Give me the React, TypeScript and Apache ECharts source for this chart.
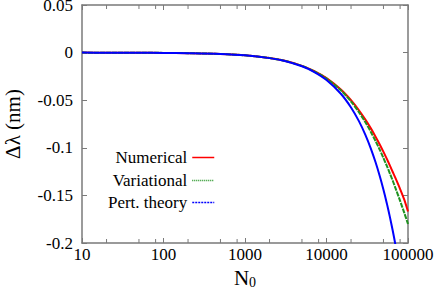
import React, { useEffect, useRef } from "react";
import * as echarts from "echarts";

const nValues = [10, 20, 50, 100, 200, 500, 1000, 2000, 3000, 5000, 7000, 10000, 15000, 20000, 25000, 30000, 35000, 40000, 45000, 50000, 55000, 60000, 65000, 70000, 80000, 90000, 100000];
const numerical = [0, -0.0001, -0.0001, -0.0003, -0.0006, -0.0014, -0.0029, -0.0057, -0.0084, -0.0139, -0.0192, -0.0268, -0.0388, -0.0500, -0.0606, -0.0704, -0.0796, -0.0883, -0.0965, -0.1043, -0.1117, -0.1187, -0.1254, -0.1316, -0.1433, -0.1545, -0.1670];
const variational = [0, -0.0001, -0.0001, -0.0003, -0.0006, -0.0014, -0.0029, -0.0057, -0.0085, -0.0140, -0.0196, -0.0272, -0.0396, -0.0514, -0.0626, -0.0732, -0.0833, -0.0929, -0.1020, -0.1108, -0.1191, -0.1270, -0.1346, -0.1420, -0.1557, -0.1683, -0.1800];
const pertTheory = [0, -0.0001, -0.0001, -0.0003, -0.0006, -0.0014, -0.0029, -0.0058, -0.0086, -0.0144, -0.0202, -0.0288, -0.0432, -0.0576, -0.0720, -0.0864, -0.1008, -0.1152, -0.1296, -0.1440, -0.1584, -0.1728, -0.1872, -0.2016, -0.2304, -0.2592, -0.2880];
const minorTicks = [20, 50, 80, 200, 500, 800, 2000, 5000, 8000, 20000, 50000, 80000];
const seriesNames = ["Numerical", "Variational", "Pert. theory"];
const yTicks = { min: -0.2, max: 0.05, interval: 0.05 };

const FONT = "Liberation Serif";
const AX = "#7a7a7a";

export default function App() {
  const ref = useRef<HTMLDivElement>(null);
  useEffect(() => {
    const chart = echarts.init(ref.current!, null, { renderer: "svg" });
    const mk = (vals: number[]) => nValues.map((n, i) => [n, vals[i]]);
    const axisCommon = {
      axisLine: { show: true, onZero: false, lineStyle: { color: AX, width: 1.5 } },
      axisTick: { show: true, inside: true, length: 5, lineStyle: { color: AX, width: 1 } },
      splitLine: { show: false },
    };
    const legendAt = (name: string, top: number, dash: any) => ({
      data: [name],
      right: 221,
      top,
      align: "right",
      orient: "horizontal",
      itemWidth: 22,
      itemHeight: 10,
      itemGap: 6,
      itemStyle: { color: "rgba(0,0,0,0)", opacity: 0, borderWidth: 0 },
      lineStyle: { width: 1.5, type: dash },
      textStyle: { fontFamily: FONT, fontSize: 17, color: "#000" },
      padding: 0,
    });
    chart.setOption({
      animation: false,
      textStyle: { fontFamily: FONT, color: "#000" },
      grid: { left: 82, right: 28, top: 5, bottom: 46, outerBoundsMode: "none", containLabel: false },
      legend: [
        legendAt(seriesNames[0], 149, "solid"),
        legendAt(seriesNames[1], 172, [1, 1]),
        legendAt(seriesNames[2], 194, [2, 1]),
      ],
      xAxis: [
        {
          type: "log",
          logBase: 10,
          min: 10,
          max: 100000,
          ...axisCommon,
          axisLabel: {
            fontFamily: FONT,
            fontSize: 17,
            color: "#000",
            margin: 3,
            formatter: (v: number) => String(Math.round(v)),
          },
          name: "N{sub|0}",
          nameLocation: "middle",
          nameGap: 23,
          nameTextStyle: {
            fontFamily: FONT,
            fontSize: 21,
            color: "#000",
            rich: { sub: { fontFamily: FONT, fontSize: 14, color: "#000", verticalAlign: "bottom", padding: [9, 0, 0, 0] } },
          },
        },
        {
          type: "log",
          logBase: 10,
          min: 10,
          max: 100000,
          position: "top",
          ...axisCommon,
          axisLabel: { show: false },
        },
      ],
      yAxis: [
        {
          type: "value",
          min: yTicks.min,
          max: yTicks.max,
          interval: yTicks.interval,
          ...axisCommon,
          axisLabel: { fontFamily: FONT, fontSize: 17, color: "#000", margin: 9 },
          name: "Δλ (nm)",
          nameLocation: "middle",
          nameGap: 59,
          nameTextStyle: { fontFamily: FONT, fontSize: 21, color: "#000" },
        },
        {
          type: "value",
          min: yTicks.min,
          max: yTicks.max,
          interval: yTicks.interval,
          position: "right",
          ...axisCommon,
          axisLabel: { show: false },
        },
      ],
      series: [
        {
          name: seriesNames[0],
          type: "line",
          data: mk(numerical),
          showSymbol: false,
          symbol: "none",
          smooth: 0.3,
          lineStyle: { color: "#ff0000", width: 2 },
          itemStyle: { color: "#ff0000" },
          z: 3,
        },
        {
          name: seriesNames[1],
          type: "line",
          data: mk(variational),
          showSymbol: false,
          symbol: "none",
          smooth: 0.3,
          lineStyle: { color: "#1f921f", width: 2, type: [5, 1] },
          itemStyle: { color: "#1f921f" },
          z: 4,
        },
        {
          name: seriesNames[2],
          type: "line",
          data: mk(pertTheory),
          showSymbol: false,
          symbol: "none",
          smooth: 0.3,
          lineStyle: { color: "#0000ff", width: 2 },
          itemStyle: { color: "#0000ff" },
          z: 5,
        },
        {
          type: "custom",
          data: minorTicks.map((v) => [v, 0]),
          silent: true,
          clip: false,
          renderItem: (params: any, api: any) => {
            const x = api.value(0);
            const b = api.coord([x, yTicks.min]);
            const t = api.coord([x, yTicks.max]);
            return {
              type: "group",
              children: [
                { type: "line", shape: { x1: b[0], y1: b[1], x2: b[0], y2: b[1] - 4 }, style: { stroke: AX, lineWidth: 1 } },
                { type: "line", shape: { x1: t[0], y1: t[1], x2: t[0], y2: t[1] + 4 }, style: { stroke: AX, lineWidth: 1 } },
              ],
            };
          },
          z: 2,
        },
      ],
    });
    return () => chart.dispose();
  }, []);
  return <div ref={ref} style={{ width: 436, height: 289, position: "absolute", left: 0, top: 0 }} />;
}
